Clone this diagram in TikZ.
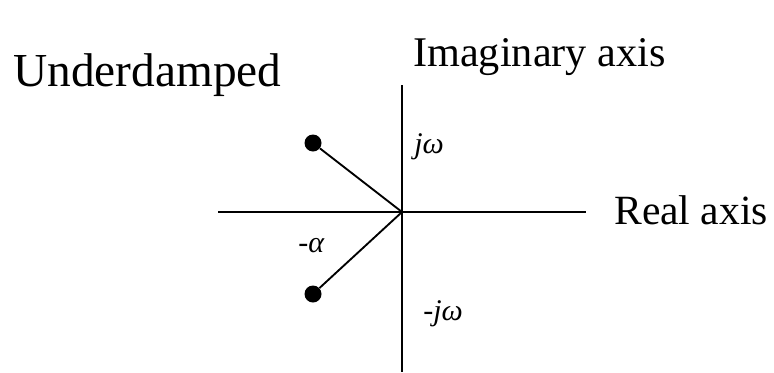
\documentclass[tikz,border=0pt]{standalone}
\usepackage{fontspec}
\setmainfont{Liberation Serif}
\usepackage{tikz}
\usetikzlibrary{positioning}

\begin{document}
\begin{tikzpicture}[
    x=0.75pt, y=-0.75pt,
    axis/.style={line width=2.2pt},
    ray/.style={line width=1.4pt},
    pole/.style={circle, fill=black, inner sep=0pt, minimum size=12.75pt},
    title/.style={font=\fontsize{#1}{#1}\selectfont, inner sep=0pt, anchor=base west},
    lbl/.style={font=\fontsize{22.5}{26}\selectfont\itshape, inner sep=0pt, anchor=base west}
]
\useasboundingbox (0,0) rectangle (774,372);
% axes
\coordinate (o) at (402,212);
\coordinate (ytop) at (402,85);
\coordinate (ybot) at (402,372);
\coordinate (xl) at (218,212);
\coordinate (xr) at (586,212);
\draw[axis] (ytop) -- (ybot);
\draw[axis] (xl) -- (xr);
% poles
\node[pole] (p1) at (313,143) {};
\node[pole] (p2) at (313,294) {};
\draw[ray] (p1) -- (o);
\draw[ray] (p2) -- (o);
% texts
\node[title=35.5] (ud) at (13,86) {Underdamped};
\node[title=31.7] (im) at (413,66) {Imaginary axis};
\node[title=31.2] (re) at (614,224) {Real axis};
\node[lbl] (jw) at (414,153) {jω};
\node[lbl] (al) at (298,252) {-α};
\node[lbl] (mjw) at (423,320) {-jω};
\end{tikzpicture}
\end{document}
